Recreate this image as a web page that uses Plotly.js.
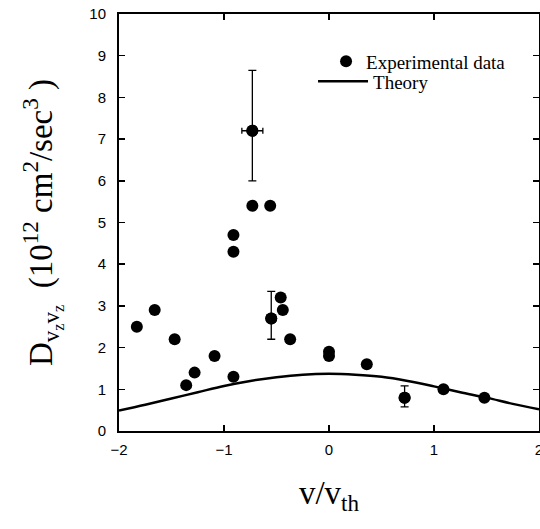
<!DOCTYPE html>
<html>
<head>
<meta charset="utf-8">
<script src="https://cdn.plot.ly/plotly-3.0.1.min.js"></script>
<style>html,body{margin:0;padding:0;background:#fff;}#chart{width:540px;height:529px;}</style>
</head>
<body>
<div id="chart"></div>
<script>
// Experimental data
const expX = [-1.83, -1.66, -1.47, -1.36, -1.28, -1.09, -0.91, -0.91, -0.91, -0.73, -0.73, -0.56, -0.55, -0.46, -0.44, -0.37, 0.0, 0.0, 0.36, 0.72, 1.09, 1.48];
const expY = [2.5, 2.9, 2.2, 1.1, 1.4, 1.8, 1.3, 4.7, 4.3, 7.2, 5.4, 5.4, 2.7, 3.2, 2.9, 2.2, 1.9, 1.8, 1.6, 0.8, 1.0, 0.8];

// Points carrying error bars
const errX = [-0.73, -0.55, 0.72];
const errY = [7.2, 2.7, 0.8];
const errYPlus = [1.45, 0.65, 0.28];
const errYMinus = [1.2, 0.5, 0.22];
const errXPlus = [0.1, 0, 0];
const errXMinus = [0.1, 0, 0];

// Theory curve
const theoryX = [-2.0, -1.75, -1.5, -1.25, -1.0, -0.75, -0.5, -0.25, 0.0, 0.25, 0.5, 0.75, 1.0, 1.25, 1.5, 1.75, 2.0];
const theoryY = [0.49, 0.63, 0.78, 0.93, 1.08, 1.2, 1.29, 1.35, 1.37, 1.35, 1.3, 1.2, 1.07, 0.93, 0.8, 0.65, 0.52];

const xTicks = [-2, -1, 0, 1, 2];
const yTicks = [0, 1, 2, 3, 4, 5, 6, 7, 8, 9, 10];

const serif = 'Liberation Serif, Times New Roman, serif';

const traces = [
  {
    x: expX, y: expY, mode: 'markers', name: 'Experimental data', legend: 'legend',
    marker: {color: '#000', size: 12}
  },
  {
    x: theoryX, y: theoryY, mode: 'lines', name: 'Theory', legend: 'legend2',
    line: {color: '#000', width: 2.5, shape: 'spline'}
  },
  {
    x: errX, y: errY, mode: 'markers', showlegend: false, hoverinfo: 'skip',
    marker: {color: '#000', size: 12},
    error_y: {type: 'data', symmetric: false, array: errYPlus, arrayminus: errYMinus, color: '#000', thickness: 1.3, width: 4},
    error_x: {type: 'data', symmetric: false, array: errXPlus, arrayminus: errXMinus, color: '#000', thickness: 1.3, width: 3}
  }
];

const axisCommon = {
  showgrid: false, zeroline: false, showline: true, linecolor: '#000', linewidth: 2,
  mirror: 'ticks', ticks: 'inside', ticklen: 6, tickwidth: 1.5, tickcolor: '#000',
  ticklabeloverflow: 'allow',
  tickfont: {family: 'Liberation Sans, Arial, sans-serif', size: 15, color: '#000'}
};

const legendCommon = {
  xanchor: 'left', yanchor: 'top', bgcolor: 'rgba(0,0,0,0)', borderwidth: 0,
  font: {family: serif, size: 19, color: '#000'}
};

const layout = {
  width: 540, height: 529,
  margin: {l: 119, r: 1, t: 14, b: 98},
  paper_bgcolor: '#fff', plot_bgcolor: '#fff',
  showlegend: true,
  legend: Object.assign({}, legendCommon, {x: 0.493, y: 0.932}),
  legend2: Object.assign({}, legendCommon, {x: 0.462, y: 0.884, itemwidth: 50}),
  xaxis: Object.assign({}, axisCommon, {
    range: [-2, 2], tickvals: xTicks, ticktext: xTicks.map(v => v < 0 ? '\u2212' + Math.abs(v) : String(v)),
    ticklabelstandoff: 4,
    title: {text: 'v/v<sub>th</sub>', font: {family: serif, size: 33, color: '#000'}, standoff: 24}
  }),
  yaxis: Object.assign({}, axisCommon, {
    range: [0, 10], tickvals: yTicks, ticklabelstandoff: 8,
    title: {text: 'D<sub>v<sub>z</sub>v<sub>z</sub></sub>  (10<sup>12</sup> cm<sup>2</sup>/sec<sup>3</sup> )', font: {family: serif, size: 33, color: '#000'}, standoff: 27}
  })
};

Plotly.newPlot('chart', traces, layout, {displayModeBar: false, staticPlot: true});
</script>
</body>
</html>
